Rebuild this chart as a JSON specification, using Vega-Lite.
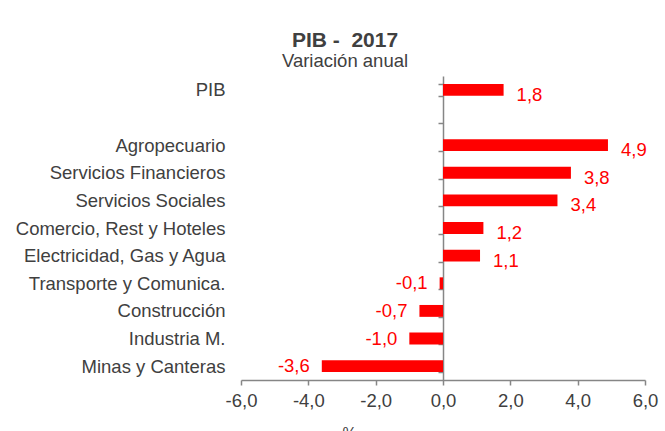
{
  "$schema": "https://vega.github.io/schema/vega-lite/v6.json",
  "width": 404,
  "height": 304,
  "autosize": "none",
  "padding": {"left": 241, "top": 76, "right": 20, "bottom": 51},
  "background": "white",
  "title": {
    "text": "PIB -\u00a0 2017",
    "subtitle": "Variación anual",
    "anchor": "middle",
    "dx": -98,
    "offset": -3,
    "font": "Liberation Sans",
    "fontSize": 21,
    "fontWeight": "bold",
    "color": "#404040",
    "subtitleFont": "Liberation Sans",
    "subtitleFontSize": 18.5,
    "subtitleColor": "#404040",
    "subtitlePadding": 1
  },
  "data": {
    "values": [
      {"cat": "PIB", "v": 1.8},
      {"cat": " ", "v": null},
      {"cat": "Agropecuario", "v": 4.9},
      {"cat": "Servicios Financieros\u00a0", "v": 3.8},
      {"cat": "Servicios Sociales", "v": 3.4},
      {"cat": "Comercio, Rest y Hoteles", "v": 1.2},
      {"cat": "Electricidad, Gas y Agua", "v": 1.1},
      {"cat": "Transporte y Comunica.", "v": -0.1},
      {"cat": "Construcción", "v": -0.7},
      {"cat": "Industria M.", "v": -1.0},
      {"cat": "Minas y Canteras", "v": -3.6}
    ]
  },
  "encoding": {
    "y": {
      "field": "cat",
      "type": "nominal",
      "sort": null,
      "scale": {
        "domain": ["PIB", " ", "Agropecuario", "Servicios Financieros\u00a0", "Servicios Sociales", "Comercio, Rest y Hoteles", "Electricidad, Gas y Agua", "Transporte y Comunica.", "Construcción", "Industria M.", "Minas y Canteras"],
        "paddingInner": 0.57,
        "paddingOuter": 0.285
      },
      "axis": {
        "title": null,
        "offset": -202,
        "domainColor": "#868686",
        "domainWidth": 1.5,
        "tickColor": "#868686",
        "tickWidth": 1.5,
        "tickSize": 5,
        "tickBand": "extent",
        "labelPadding": 213,
        "labelLimit": 0,
        "labelFont": "Liberation Sans",
        "labelFontSize": 18.5,
        "labelColor": "#404040"
      }
    },
    "x": {
      "field": "v",
      "type": "quantitative",
      "scale": {"domain": [-6, 6], "nice": false},
      "axis": {
        "values": [-6, -4, -2, 0, 2, 4, 6],
        "format": ".1f",
        "grid": false,
        "labelFlush": false,
        "labelOverlap": false,
        "domainColor": "#868686",
        "domainWidth": 1.5,
        "tickColor": "#868686",
        "tickWidth": 1.5,
        "tickSize": 5,
        "labelPadding": 6,
        "labelFont": "Liberation Sans",
        "labelFontSize": 18.5,
        "labelColor": "#404040",
        "title": "%",
        "titleFont": "Liberation Sans",
        "titleFontSize": 16,
        "titleFontWeight": "normal",
        "titleColor": "#404040",
        "titleX": 108,
        "titleY": 45,
        "titleBaseline": "top"
      }
    }
  },
  "layer": [
    {"mark": {"type": "bar", "color": "#FF0000"}},
    {
      "transform": [{"filter": "datum.v >= 0"}],
      "mark": {"type": "text", "align": "left", "baseline": "middle", "dx": 13, "dy": 5, "color": "#FF0000", "font": "Liberation Sans", "fontSize": 18.5},
      "encoding": {"text": {"field": "v", "type": "quantitative", "format": ".1f"}}
    },
    {
      "transform": [{"filter": "datum.v < 0"}],
      "mark": {"type": "text", "align": "right", "baseline": "middle", "dx": -12, "dy": 0, "color": "#FF0000", "font": "Liberation Sans", "fontSize": 18.5},
      "encoding": {"text": {"field": "v", "type": "quantitative", "format": ".1f"}}
    }
  ],
  "config": {
    "view": {"stroke": null},
    "locale": {
      "number": {"decimal": ",", "thousands": ".", "grouping": [3], "currency": ["", ""], "minus": "-"}
    }
  }
}
